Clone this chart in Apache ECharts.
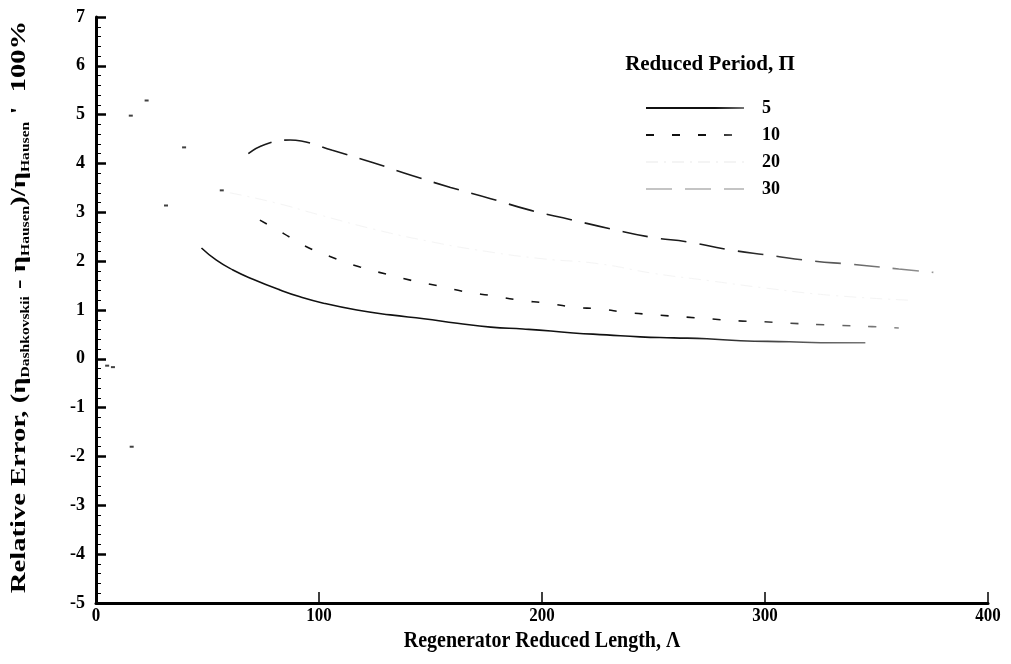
<!DOCTYPE html>
<html>
<head>
<meta charset="utf-8">
<script src="https://cdn.jsdelivr.net/npm/echarts@6/dist/echarts.min.js"></script>
<style>
  html, body { margin: 0; padding: 0; background: #fff; }
  #chart { width: 1011px; height: 664px; }
</style>
</head>
<body>
<div id="chart"></div>
<script>
// Relative error of the Dashkovskii efficiency against Hausen, per reduced period Π
const periodNames = ['5', '10', '20', '30'];

const lambda5 = [47.3, 54, 61.4, 70.4, 82.5, 91.5, 102, 117, 132, 147, 162, 177, 191.5, 204, 214, 229, 244, 259, 274, 289, 311, 325, 335, 345];
const err5    = [2.27, 2.02, 1.82, 1.63, 1.41, 1.27, 1.14, 1.00, 0.90, 0.82, 0.73, 0.65, 0.61, 0.57, 0.53, 0.49, 0.45, 0.43, 0.41, 0.37, 0.35, 0.33, 0.33, 0.33];

const lambda10 = [73.5, 84, 93.7, 105.8, 118.4, 130.5, 142, 154, 166, 178, 190, 202, 214, 226, 238, 251, 263, 275, 287, 299, 311, 330, 348, 360];
const err10    = [2.84, 2.57, 2.31, 2.08, 1.88, 1.73, 1.60, 1.49, 1.37, 1.29, 1.20, 1.14, 1.06, 1.02, 0.95, 0.90, 0.86, 0.82, 0.78, 0.76, 0.73, 0.69, 0.66, 0.63];

const lambda20 = [60, 80, 100, 125, 150, 175, 200, 225, 250, 275, 300, 330, 365];
const err20    = [3.40, 3.20, 2.95, 2.65, 2.40, 2.20, 2.05, 1.95, 1.75, 1.60, 1.45, 1.30, 1.20];

const lambda30 = [68.3, 75.8, 87, 92, 106, 124, 142, 159, 177, 195, 213, 230, 249, 266, 283, 302, 322, 338, 360, 375.5];
const err30    = [4.20, 4.39, 4.48, 4.46, 4.27, 4.02, 3.75, 3.51, 3.28, 3.04, 2.85, 2.67, 2.49, 2.39, 2.24, 2.12, 2.00, 1.94, 1.84, 1.77];

// sparse marks left by the curves at small reduced length
const lambdaTrace = [5, 7.6, 15.6, 16, 22.7, 31.4, 39.5, 56.4];
const errTrace    = [-0.14, -0.17, 4.98, -1.8, 5.29, 3.14, 4.33, 3.45];

const xTicks = [0, 100, 200, 300, 400];
const yTicks = [-5, -4, -3, -2, -1, 0, 1, 2, 3, 4, 5, 6, 7];

const legendTitle = 'Reduced Period, Π';
const xTitle = 'Regenerator Reduced Length, Λ';
const yTitleParts = [
  ['m', 'Relative Error, (η'], ['s', 'Dashkovskii'], ['m', ' - η'], ['s', 'Hausen'],
  ['m', ')/η'], ['s', 'Hausen'], ['m', " '  100%"]
];

const pairs = (xs, ys) => xs.map((x, i) => [x, ys[i]]);
const serif = "'Liberation Serif', 'Times New Roman', serif";
const boldFont = size => 'bold ' + size + 'px ' + serif;

// ink thins out toward the right-hand end of each curve
const fadingInk = (start, end) => new echarts.graphic.LinearGradient(0, 0, 1, 0, [
  { offset: 0, color: start }, { offset: 0.7, color: start }, { offset: 1, color: end }
]);

const chart = echarts.init(document.getElementById('chart'), null, { renderer: 'canvas' });

chart.setOption({
  animation: false,
  backgroundColor: '#fff',
  grid: { left: 96, right: 23, top: 17, bottom: 61 },
  legend: {
    data: [
      { name: '5' },
      { name: '10' },
      { name: '20' },
      { name: '30', lineStyle: { color: '#8a8a8a', width: 1.2 } }
    ],
    orient: 'vertical',
    left: 640, top: 94,
    itemWidth: 98, itemHeight: 14, itemGap: 9,
    itemStyle: { opacity: 0 },
    textStyle: { fontFamily: serif, fontWeight: 'bold', fontSize: 18, color: '#000', padding: [0, 0, 0, 13] }
  },
  xAxis: {
    type: 'value',
    min: xTicks[0], max: xTicks[xTicks.length - 1], interval: 100,
    axisLine: { onZero: false, lineStyle: { color: '#000', width: 3 } },
    axisTick: { inside: true, length: 11, lineStyle: { color: '#000', width: 1.5 } },
    axisLabel: { show: false },
    splitLine: { show: false }
  },
  yAxis: {
    type: 'value',
    min: yTicks[0], max: yTicks[yTicks.length - 1], interval: 1,
    axisLine: { lineStyle: { color: '#000', width: 3 } },
    axisTick: { inside: true, length: 10, lineStyle: { color: '#000', width: 2.5 } },
    minorTick: { show: true, splitNumber: 5, length: 5, lineStyle: { color: '#000', width: 1 } },
    axisLabel: { show: false },
    splitLine: { show: false }
  },
  series: [
    {
      name: '5', type: 'line', symbol: 'none', smooth: true,
      lineStyle: { color: fadingInk('#111', '#777'), width: 1.6, type: 'solid' },
      itemStyle: { color: '#111' },
      data: pairs(lambda5, err5)
    },
    {
      name: '10', type: 'line', symbol: 'none', smooth: true,
      lineStyle: { color: fadingInk('#111', '#888'), width: 1.6, type: [8, 18] },
      itemStyle: { color: '#111' },
      data: pairs(lambda10, err10)
    },
    {
      name: '20', type: 'line', symbol: 'none', smooth: true,
      lineStyle: { color: '#f4f4f4', width: 1, type: [12, 6, 2, 6] },
      itemStyle: { color: '#f4f4f4' },
      data: pairs(lambda20, err20)
    },
    {
      name: '30', type: 'line', symbol: 'none', smooth: true,
      lineStyle: { color: fadingInk('#1a1a1a', '#999'), width: 1.6, type: [26, 13] },
      itemStyle: { color: '#1a1a1a' },
      data: pairs(lambda30, err30)
    },
    {
      name: 'trace', type: 'scatter', symbol: 'rect', symbolSize: [4, 2],
      itemStyle: { color: '#111' },
      data: pairs(lambdaTrace, errTrace)
    }
  ]
});

// Tick labels and titles, placed from the axis scales
const px = v => chart.convertToPixel({ xAxisIndex: 0 }, v);
const py = v => chart.convertToPixel({ yAxisIndex: 0 }, v);
const axisBottom = py(yTicks[0]);
const axisLeft = px(xTicks[0]);

function label(text, x, y, size, align, vAlign, stretch) {
  return {
    type: 'text', x: x, y: y, scaleY: stretch || 1, silent: true,
    style: {
      text: text, fill: '#000', font: boldFont(size),
      align: align, verticalAlign: vAlign, textAlign: align, textVerticalAlign: vAlign
    }
  };
}

const graphics = [];
xTicks.forEach(v => graphics.push(label(String(v), px(v), axisBottom + 3, 17, 'center', 'top', 1.15)));
yTicks.forEach(v => graphics.push(label(String(v), axisLeft - 11, py(v), 18, 'right', 'middle')));

graphics.push(label(xTitle, (px(xTicks[0]) + px(xTicks[xTicks.length - 1])) / 2, axisBottom + 26, 20, 'center', 'top', 1.2));
graphics.push(label(legendTitle, 710, 65, 21, 'center', 'middle'));

graphics.push({
  type: 'text', silent: true,
  x: 19, y: (py(yTicks[0]) + py(yTicks[yTicks.length - 1])) / 2 - 3,
  rotation: Math.PI / 2, scaleX: 1.3,
  style: {
    text: yTitleParts.map(p => '{' + p[0] + '|' + p[1] + '}').join(''),
    align: 'center', verticalAlign: 'middle', textAlign: 'center', textVerticalAlign: 'middle',
    rich: {
      m: { font: boldFont(22), fill: '#000', lineHeight: 26 },
      s: { font: boldFont(12), fill: '#000', lineHeight: 14, verticalAlign: 'bottom' }
    }
  }
});

chart.setOption({ graphic: { elements: graphics } });
</script>
</body>
</html>
